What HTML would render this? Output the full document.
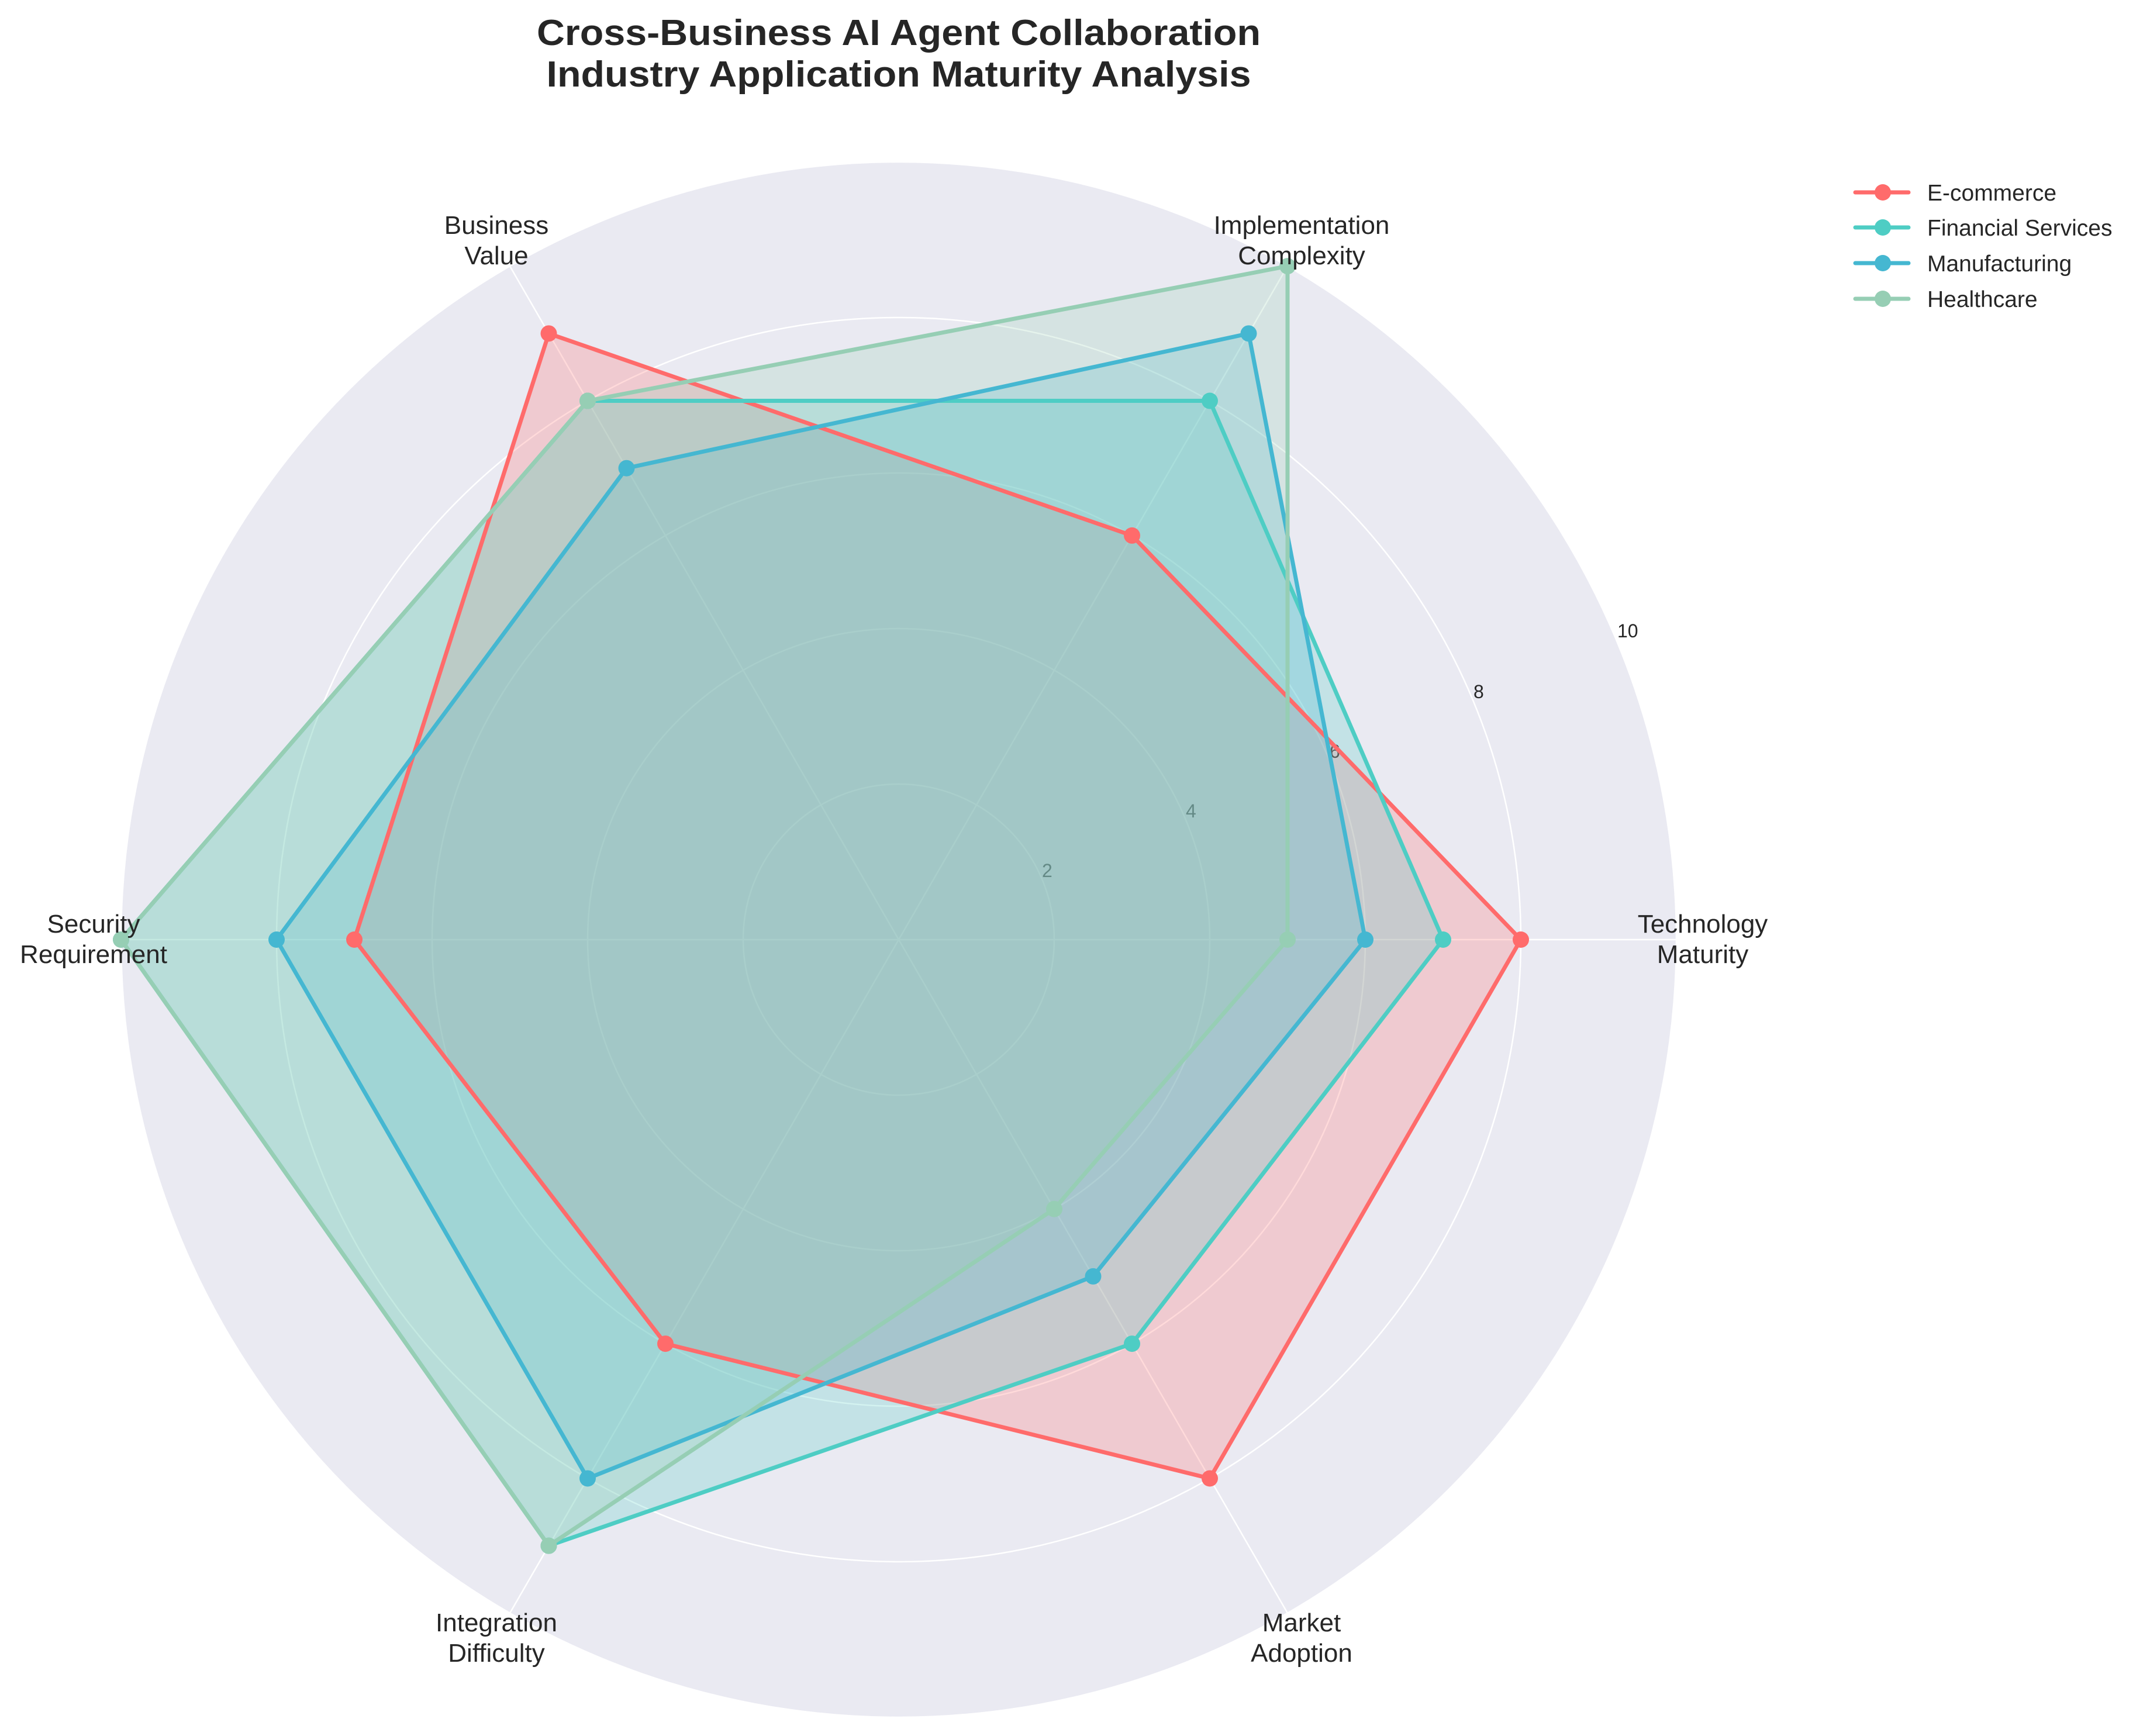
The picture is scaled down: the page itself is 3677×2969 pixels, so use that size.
<!DOCTYPE html>
<html><head><meta charset="utf-8"><style>
html,body{margin:0;padding:0;background:#fff;}
svg{display:block;}
text{font-family:"Liberation Sans",Arial,sans-serif;fill:#262626;}
</style></head><body>
<svg id="s" width="3677" height="2969" viewBox="0 0 3677 2969" xmlns="http://www.w3.org/2000/svg">
<circle cx="1537" cy="1607" r="1330" fill="#EAEAF2"/>
<g id="grid" stroke="#fff" stroke-width="2.5" fill="none"></g>
<g font-size="32" fill="#333">
<text x="1782" y="1500">2</text>
<text x="2028" y="1398">4</text>
<text x="2274" y="1296">6</text>
<text x="2520" y="1194">8</text>
<text x="2766" y="1090">10</text>
</g>
<g id="fills"></g>
<g id="lines"></g>
<g font-size="44" text-anchor="middle">
<text x="2912" y="1595">Technology</text><text x="2912" y="1647">Maturity</text>
<text x="2226" y="400">Implementation</text><text x="2226" y="452">Complexity</text>
<text x="849" y="400">Business</text><text x="849" y="452">Value</text>
<text x="160" y="1595">Security</text><text x="160" y="1647">Requirement</text>
<text x="849" y="2790">Integration</text><text x="849" y="2842">Difficulty</text>
<text x="2226" y="2790">Market</text><text x="2226" y="2842">Adoption</text>
</g>
<g font-size="62" font-weight="bold" text-anchor="middle">
<text x="1537" y="77" textLength="1238" lengthAdjust="spacingAndGlyphs">Cross-Business AI Agent Collaboration</text>
<text x="1537" y="148" textLength="1205" lengthAdjust="spacingAndGlyphs">Industry Application Maturity Analysis</text>
</g>
<g font-size="39">
<line x1="3173" y1="329" x2="3264" y2="329" stroke="#FF6B6B" stroke-width="7" stroke-linecap="round"/><circle cx="3220" cy="329" r="14" fill="#FF6B6B"/><text x="3296" y="343">E-commerce</text>
<line x1="3173" y1="389" x2="3264" y2="389" stroke="#4ECDC4" stroke-width="7" stroke-linecap="round"/><circle cx="3220" cy="389" r="14" fill="#4ECDC4"/><text x="3296" y="403">Financial Services</text>
<line x1="3173" y1="450" x2="3264" y2="450" stroke="#45B7D1" stroke-width="7" stroke-linecap="round"/><circle cx="3220" cy="450" r="14" fill="#45B7D1"/><text x="3296" y="464">Manufacturing</text>
<line x1="3173" y1="511" x2="3264" y2="511" stroke="#96CEB4" stroke-width="7" stroke-linecap="round"/><circle cx="3220" cy="511" r="14" fill="#96CEB4"/><text x="3296" y="525">Healthcare</text>
</g>
</svg>
<script>
(function(){
var NS="http://www.w3.org/2000/svg",cx=1537,cy=1607,U=133;
var g=document.getElementById('grid'),f=document.getElementById('fills'),l=document.getElementById('lines');
function el(p,t,a){var e=document.createElementNS(NS,t);for(var k in a)e.setAttribute(k,a[k]);p.appendChild(e);return e;}
for(var v=2;v<=10;v+=2)el(g,'circle',{cx:cx,cy:cy,r:v*U});
for(var i=0;i<6;i++){var a=i*Math.PI/3;el(g,'line',{x1:cx,y1:cy,x2:cx+1330*Math.cos(a),y2:cy-1330*Math.sin(a)});}
var data=[["#FF6B6B",[8,6,9,7,6,8]],["#4ECDC4",[7,8,8,10,9,6]],["#45B7D1",[6,9,7,8,8,5]],["#96CEB4",[5,10,8,10,9,4]]];
data.forEach(function(d){
 var pts=d[1].map(function(v,i){var a=i*Math.PI/3;return [cx+v*U*Math.cos(a),cy-v*U*Math.sin(a)];});
 var str=pts.map(function(p){return p[0].toFixed(1)+","+p[1].toFixed(1);}).join(" ");
 el(f,'polygon',{points:str,fill:d[0],'fill-opacity':0.25,stroke:'none'});
 el(l,'polygon',{points:str,fill:'none',stroke:d[0],'stroke-width':7,'stroke-linejoin':'round'});
 pts.forEach(function(p){el(l,'circle',{cx:p[0],cy:p[1],r:14,fill:d[0]});});
});
})();
</script>
</body></html>
